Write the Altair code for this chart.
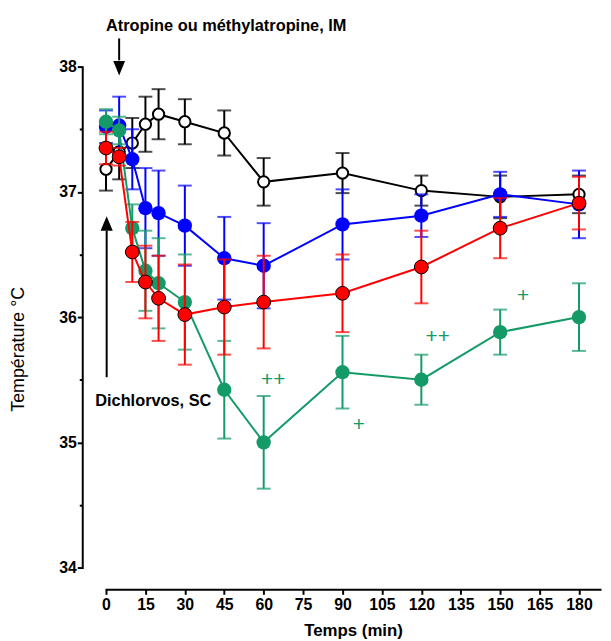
import altair as alt
import pandas as pd

# ---------------- data ----------------
times = [0, 5, 10, 15, 20, 30, 45, 60, 90, 120, 150, 180]

black_mean = [37.18, 37.32, 37.39, 37.54, 37.62, 37.56, 37.47, 37.08, 37.15, 37.01, 36.96, 36.98]
black_sem = [0.17, 0.22, 0.20, 0.22, 0.20, 0.18, 0.18, 0.19, 0.16, 0.12, 0.17, 0.15]

blue_mean = [37.52, 37.53, 37.26, 36.87, 36.83, 36.73, 36.47, 36.41, 36.74, 36.81, 36.98, 36.90]
blue_sem = [0.13, 0.23, 0.24, 0.32, 0.34, 0.32, 0.33, 0.34, 0.28, 0.17, 0.18, 0.27]

green_mean = [37.56, 37.49, 36.71, 36.37, 36.27, 36.12, 35.42, 35.00, 35.56, 35.50, 35.88, 36.00]
green_sem = [0.10, 0.11, 0.19, 0.32, 0.36, 0.38, 0.39, 0.37, 0.29, 0.20, 0.18, 0.27]

red_mean = [37.35, 37.28, 36.52, 36.28, 36.15, 36.02, 36.08, 36.12, 36.19, 36.40, 36.71, 36.91]
red_sem = [0.13, 0.07, 0.24, 0.29, 0.34, 0.40, 0.38, 0.37, 0.31, 0.29, 0.24, 0.21]

x_ticks = [0, 15, 30, 45, 60, 75, 90, 105, 120, 135, 150, 165, 180]
y_ticks = [34, 34.5, 35, 35.5, 36, 36.5, 37, 37.5, 38]

plus_t = [63.6, 96.2, 126.2, 158.7]
plus_v = [35.50, 35.14, 35.84, 36.17]
plus_text = ["++", "+", "++", "+"]

label_top = "Atropine ou méthylatropine, IM"
label_side = "Dichlorvos, SC"

FONT = "Liberation Sans"
GREEN = "#139a67"

# ---------------- scales / axes ----------------
xs = alt.Scale(domain=[0, 188], nice=False, zero=False)
ys = alt.Scale(domain=[34, 38], nice=False, zero=False)

xaxis = alt.Axis(
    values=x_ticks, offset=22, grid=False,
    domainColor="black", domainWidth=2, tickColor="black", tickWidth=2, tickSize=5,
    labelFont=FONT, labelFontSize=16, labelFontWeight="bold", labelColor="black",
    labelPadding=2, labelFlush=False, labelOverlap=False,
    title="Temps (min)", titleFont=FONT, titleFontSize=17, titleFontWeight="bold",
    titleColor="black", titleBaseline="alphabetic", titleY=47,
)
yaxis = alt.Axis(
    values=y_ticks, offset=24, grid=False,
    domainColor="black", domainWidth=2, tickColor="black", tickWidth=2,
    tickSize={"condition": {"test": "datum.value % 1 === 0", "value": 5}, "value": 3},
    labelExpr="datum.value % 1 === 0 ? format(datum.value, 'd') : ''",
    labelFont=FONT, labelFontSize=16, labelFontWeight="bold", labelColor="black",
    labelPadding=1, labelFlush=False, labelOverlap=False,
    title="Température °C", titleFont=FONT, titleFontSize=18, titleFontWeight="normal",
    titleColor="black", titleAngle=270, titleAlign="center", titleBaseline="alphabetic",
    titleX=-59, titleY=285,
)

X = alt.X("t:Q", scale=xs, axis=xaxis)


def series_layers(mean, sem, color, fill, stroke, stroke_w, size):
    df = pd.DataFrame({
        "t": times,
        "m": mean,
        "lo": [a - b for a, b in zip(mean, sem)],
        "hi": [a + b for a, b in zip(mean, sem)],
    })
    base = alt.Chart(df)
    line = base.mark_line(color=color, strokeWidth=2).encode(
        x=X, y=alt.Y("m:Q", scale=ys, axis=yaxis))
    rule = base.mark_rule(color=color, strokeWidth=2).encode(
        x=X, y=alt.Y("lo:Q", scale=ys, axis=yaxis), y2="hi:Q")
    cap_lo = base.mark_tick(color=color, orient="horizontal", size=14, thickness=2).encode(
        x=X, y=alt.Y("lo:Q", scale=ys, axis=yaxis))
    cap_hi = base.mark_tick(color=color, orient="horizontal", size=14, thickness=2).encode(
        x=X, y=alt.Y("hi:Q", scale=ys, axis=yaxis))
    pt_kwargs = dict(shape="circle", size=size, fill=fill, opacity=1, fillOpacity=1)
    if stroke:
        pt_kwargs.update(stroke=stroke, strokeWidth=stroke_w)
    else:
        pt_kwargs.update(strokeWidth=0)
    pts = base.mark_point(**pt_kwargs).encode(
        x=X, y=alt.Y("m:Q", scale=ys, axis=yaxis))
    return [line, rule, cap_lo, cap_hi, pts]


layers = []
layers += series_layers(black_mean, black_sem, "black", "white", "black", 2, 130)
layers += series_layers(blue_mean, blue_sem, "#0000ff", "#0000ff", None, 0, 210)
layers += series_layers(green_mean, green_sem, GREEN, GREEN, None, 0, 210)
layers += series_layers(red_mean, red_sem, "#ff0000", "#ff0000", "black", 1, 195)

# ---------------- annotations ----------------
txt_df = pd.DataFrame({"t": [0, -4.1], "v": [38.285, 35.29], "label": [label_top, label_side]})
texts = alt.Chart(txt_df).mark_text(
    align="left", baseline="alphabetic", font=FONT, fontSize=16.5, fontWeight="bold", color="black"
).encode(x=X, y=alt.Y("v:Q", scale=ys, axis=yaxis), text="label:N")

plus_df = pd.DataFrame({"t": plus_t, "v": plus_v, "label": plus_text})
plus = alt.Chart(plus_df).mark_text(
    align="center", baseline="middle", font=FONT, fontSize=21, color=GREEN
).encode(x=X, y=alt.Y("v:Q", scale=ys, axis=yaxis), text="label:N")

arrow_df = pd.DataFrame({"t": [5, 0.25], "y1": [38.225, 35.52], "y2": [38.05, 36.69]})
arrow_lines = alt.Chart(arrow_df).mark_rule(color="black", strokeWidth=2).encode(
    x=X, y=alt.Y("y1:Q", scale=ys, axis=yaxis), y2="y2:Q")

head_down = alt.Chart(pd.DataFrame({"t": [5], "v": [37.987]})).mark_point(
    shape="M-0.82,-1L0.82,-1L0,1Z", size=210, fill="black", filled=True, opacity=1, strokeWidth=0
).encode(x=X, y=alt.Y("v:Q", scale=ys, axis=yaxis))
head_up = alt.Chart(pd.DataFrame({"t": [0.25], "v": [36.747]})).mark_point(
    shape="M-0.85,1L0.85,1L0,-1Z", size=210, fill="black", filled=True, opacity=1, strokeWidth=0
).encode(x=X, y=alt.Y("v:Q", scale=ys, axis=yaxis))

layers += [arrow_lines, head_down, head_up, texts, plus]

chart = alt.layer(*layers).properties(
    width=499, height=506,
    autosize=alt.AutoSizeParams(type="none"),
    padding={"left": 99, "top": 56, "right": 3, "bottom": 75},
).configure_view(stroke=None).configure_axis(domainCap="square")

chart.save("out.html", embed_options={"renderer": "svg", "actions": False})
